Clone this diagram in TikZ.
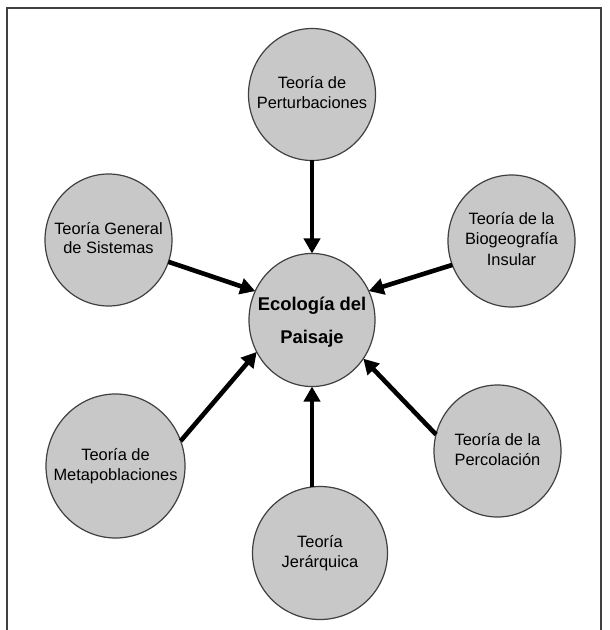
\documentclass[tikz,border=0pt]{standalone}
\usepackage{fontspec}
\setmainfont{Liberation Sans}
\usetikzlibrary{positioning,shapes.geometric,arrows.meta}
\definecolor{bubblegray}{RGB}{200,200,200}
\definecolor{rimgray}{RGB}{64,64,64}
\tikzstyle{arrow} = [line width=2.3pt,-{Triangle[length=7.5pt,width=8pt]}]
\tikzstyle{theory} = [draw=rimgray, fill=bubblegray, line width=0.6pt, ellipse, inner sep=0pt, outer sep=0pt, minimum width=63.5pt, minimum height=66pt, font=\fontsize{8.2}{10}\selectfont]
\newcommand{\bubbletext}[1]{\makebox[0pt]{\begin{tabular}{@{}c@{}}#1\end{tabular}}}

\begin{document}
\begin{tikzpicture}[x=0.5pt,y=-0.5pt]
    \useasboundingbox (0,0) rectangle (609,630);
    \draw [rimgray, line width=0.6pt] (7,630) |- (601,8) -- (601,630);

    \node (paisaje) [theory, minimum width=63pt, minimum height=66.5pt, font=\bfseries\fontsize{9.2}{16.5}\selectfont] at (312,320) {\bubbletext{Ecología del\\Paisaje}};

    \node (pert) [theory, above=46.5pt of paisaje] {\bubbletext{Teoría de\\Perturbaciones}};
    \draw [arrow] (pert) -- (paisaje);

    \node (sist) [theory, left=38.5pt of paisaje, yshift=40pt] {\bubbletext{Teoría General\\de Sistemas}};
    \draw [arrow] (sist.-20) -- (paisaje.153);

    \node (bio) [theory, right=36.5pt of paisaje, yshift=39.5pt] {\bubbletext{Teoría de la\\Biogeografía\\Insular}};
    \draw [arrow] (bio.202) -- (paisaje.27);

    \node (meta) [theory, minimum width=69.5pt, minimum height=72pt, left=32pt of paisaje, yshift=-73pt] {\bubbletext{Teoría de\\Metapoblaciones}};
    \draw [arrow] (meta.21) -- (paisaje.210);

    \node (perc) [theory, right=29.5pt of paisaje, yshift=-65.5pt] {\bubbletext{Teoría de la\\Percolación}};
    \draw [arrow] (perc.165) -- (paisaje.-37);

    \node (jer) [theory, minimum width=67.5pt, minimum height=66.5pt, below=50pt of paisaje, xshift=4pt] {\bubbletext{Teoría\\Jerárquica}};
    \draw [arrow] (jer.north -| paisaje) -- (paisaje.south);

  \end{tikzpicture}
\end{document}
